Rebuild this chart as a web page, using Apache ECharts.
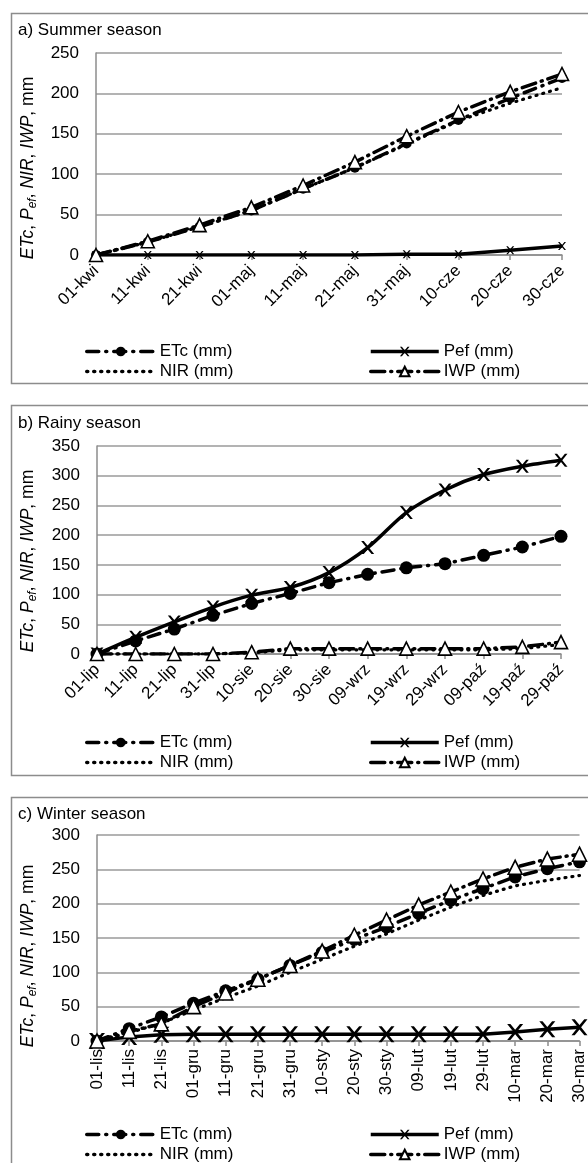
<!DOCTYPE html>
<html><head><meta charset="utf-8">
<script src="https://cdn.jsdelivr.net/npm/echarts@6/dist/echarts.min.js"></script>
<style>html,body{margin:0;padding:0;background:#fff;width:588px;height:1163px;overflow:hidden}
.p{position:absolute;left:0;width:588px}</style></head>
<body>
<div id="a" class="p" style="top:0;height:392px"></div>
<div id="b" class="p" style="top:392px;height:392px"></div>
<div id="c" class="p" style="top:784px;height:379px"></div>
<script>
// ---- data ----
const catsA = ['01-kwi','11-kwi','21-kwi','01-maj','11-maj','21-maj','31-maj','10-cze','20-cze','30-cze'];
const etcA = [0,16,35,55,82,108,138,167,194,219];
const pefA = [0,0,0,0,0,0,1,1,6,11];
const nirA = [0,16,35,55,82,108,137,166,188,207];
const iwpA = [0,17,37,59,86,115,147,177,202,224];

const catsB = ['01-lip','11-lip','21-lip','31-lip','10-sie','20-sie','30-sie','09-wrz','19-wrz','29-wrz','09-paź','19-paź','29-paź'];
const etcB = [0,22,42,65,85,102,120,134,145,152,166,180,198];
const pefB = [0,28,54,79,99,112,137,179,238,276,302,316,326];
const nirB = [0,0,0,0,2,7,7,7,7,7,7,9,16];
const iwpB = [0,0,0,0,3,9,9,9,9,9,9,12,20];

const catsC = ['01-lis','11-lis','21-lis','01-gru','11-gru','21-gru','31-gru','10-sty','20-sty','30-sty','09-lut','19-lut','29-lut','10-mar','20-mar','30-mar'];
const etcC = [0,18,35,55,73,90,110,129,148,166,186,205,222,239,251,261];
const pefC = [0,6,9,10,10,10,10,10,10,10,10,10,10,13,17,20];
const nirC = [0,12,26,45,63,80,100,119,138,156,176,195,212,226,234,241];
const iwpC = [0,14,25,50,70,90,110,131,154,176,198,217,236,253,265,272];

const titles = ['a) Summer season','b) Rainy season','c) Winter season'];
const names = ['ETc (mm)','Pef (mm)','NIR (mm)','IWP (mm)'];

const FONT = 'Liberation Sans, Arial, sans-serif';
const FS = 17;
const XSYM = 'path://M0,0L2,0L5,3.6L8,0L10,0L6,5L10,10L8,10L5,6.4L2,10L0,10L4,5Z';

function legendItem(name, left, top, hideSym) {
  const l = {data:[name], left:left, top:top, itemWidth:68, itemHeight:12,
    lineStyle:{width:3.5},
    textStyle:{fontSize:FS, color:'#000', fontFamily:FONT}};
  if (hideSym) l.itemStyle = {color:'rgba(0,0,0,0)', borderColor:'rgba(0,0,0,0)', opacity:0};
  return l;
}

function panel(id, cfg) {
  const ch = echarts.init(document.getElementById(id));
  const opt = {
    animation: false,
    textStyle: {fontFamily: FONT},
    graphic: [
      {type:'rect', shape:{x:11.5, y:13.5, width:600, height:cfg.frameH}, style:{fill:'none', stroke:'#8c8c8c', lineWidth:1.5}, silent:true},
      {type:'text', x:18, y:cfg.titleY, style:{text:cfg.title, font:'17px '+FONT, fill:'#000', verticalAlign:'middle'}},
      {type:'text', x:28, y:cfg.nameY, rotation:Math.PI/2,
        style:{text:'{i|ETc}, {i|P}{s|ef}, {i|NIR}, {i|IWP}, mm', font:'17.5px '+FONT, fill:'#000', align:'center', verticalAlign:'middle',
          rich:{i:{fontStyle:'italic', fontSize:17.5, fontFamily:FONT, lineHeight:21}, s:{fontStyle:'italic', fontSize:12, fontFamily:FONT, verticalAlign:'bottom', lineHeight:13}}}}
    ],
    grid: {left:cfg.left, top:cfg.top, width:cfg.width, height:cfg.height, containLabel:false},
    xAxis: {type:'category', data:cfg.cats, boundaryGap:false,
      axisLine:{lineStyle:{color:'#8c8c8c', width:1.5}},
      axisTick:{show:true, alignWithLabel:true, length:5, lineStyle:{color:'#8c8c8c', width:1.5}},
      axisLabel:{rotate:cfg.rot, fontSize:FS, color:'#000', fontFamily:FONT, interval:0, margin:cfg.lblMargin},
      splitLine:{show:false}},
    yAxis: {type:'value', min:0, max:cfg.max, interval:50,
      axisLine:{show:true, lineStyle:{color:'#8c8c8c', width:1.5}},
      axisTick:{show:false},
      axisLabel:{fontSize:FS, color:'#000', fontFamily:FONT, margin:17},
      splitLine:{lineStyle:{color:'#9a9a9a', width:1.5}}},
    legend: [
      legendItem(names[0], 80, cfg.leg1-9, false),
      legendItem(names[1], 364, cfg.leg1-9, false),
      legendItem(names[2], 80, cfg.leg2-9, true),
      legendItem(names[3], 364, cfg.leg2-9, false)
    ],
    series: [
      {name:names[0], type:'line', data:cfg.etc, symbol:'circle', symbolSize:cfg.cs, itemStyle:{color:'#000'},
        lineStyle:{color:'#000', width:3.5, type:[12,7,1,7], cap:'round'}, z:2},
      {name:names[1], type:'line', data:cfg.pef, symbol:XSYM, symbolSize:cfg.xs, smooth:cfg.smooth, itemStyle:{color:'#000'},
        lineStyle:{color:'#000', width:3.5}, z:3},
      {name:names[2], type:'line', data:cfg.nir, symbol:'circle', showSymbol:false,
        lineStyle:{color:'#000', width:3.2, type:[1,6], cap:'round'}, itemStyle:{color:'#000'}, z:4},
      {name:names[3], type:'line', data:cfg.iwp, symbol:'triangle', symbolSize:cfg.ts,
        itemStyle:{color:'#fff', borderColor:'#000', borderWidth:1.6},
        lineStyle:{color:'#000', width:3.5, type:[14,6,1,6], cap:'round'}, z:5}
    ]
  };
  ch.setOption(opt);
}

panel('a', {title:titles[0], frameH:370, titleY:30, nameY:168, left:96, top:53, width:466, height:202, max:250,
  cats:catsA, rot:45, lblMargin:13, leg1:347, leg2:367, etc:etcA, pef:pefA, nir:nirA, iwp:iwpA,
  cs:10, xs:8, ts:13, smooth:false});
panel('b', {title:titles[1], frameH:370, titleY:31, nameY:169, left:97, top:54, width:464, height:208, max:350,
  cats:catsB, rot:45, lblMargin:13, leg1:346, leg2:366, etc:etcB, pef:pefB, nir:nirB, iwp:iwpB,
  cs:13, xs:13, ts:13, smooth:0.3});
panel('c', {title:titles[2], frameH:420, titleY:30, nameY:172, left:97, top:51, width:486, height:206, max:300,
  cats:catsC, rot:90, lblMargin:8, leg1:346, leg2:366, etc:etcC, pef:pefC, nir:nirC, iwp:iwpC,
  cs:13, xs:16, ts:14, smooth:false});
</script>
</body></html>
